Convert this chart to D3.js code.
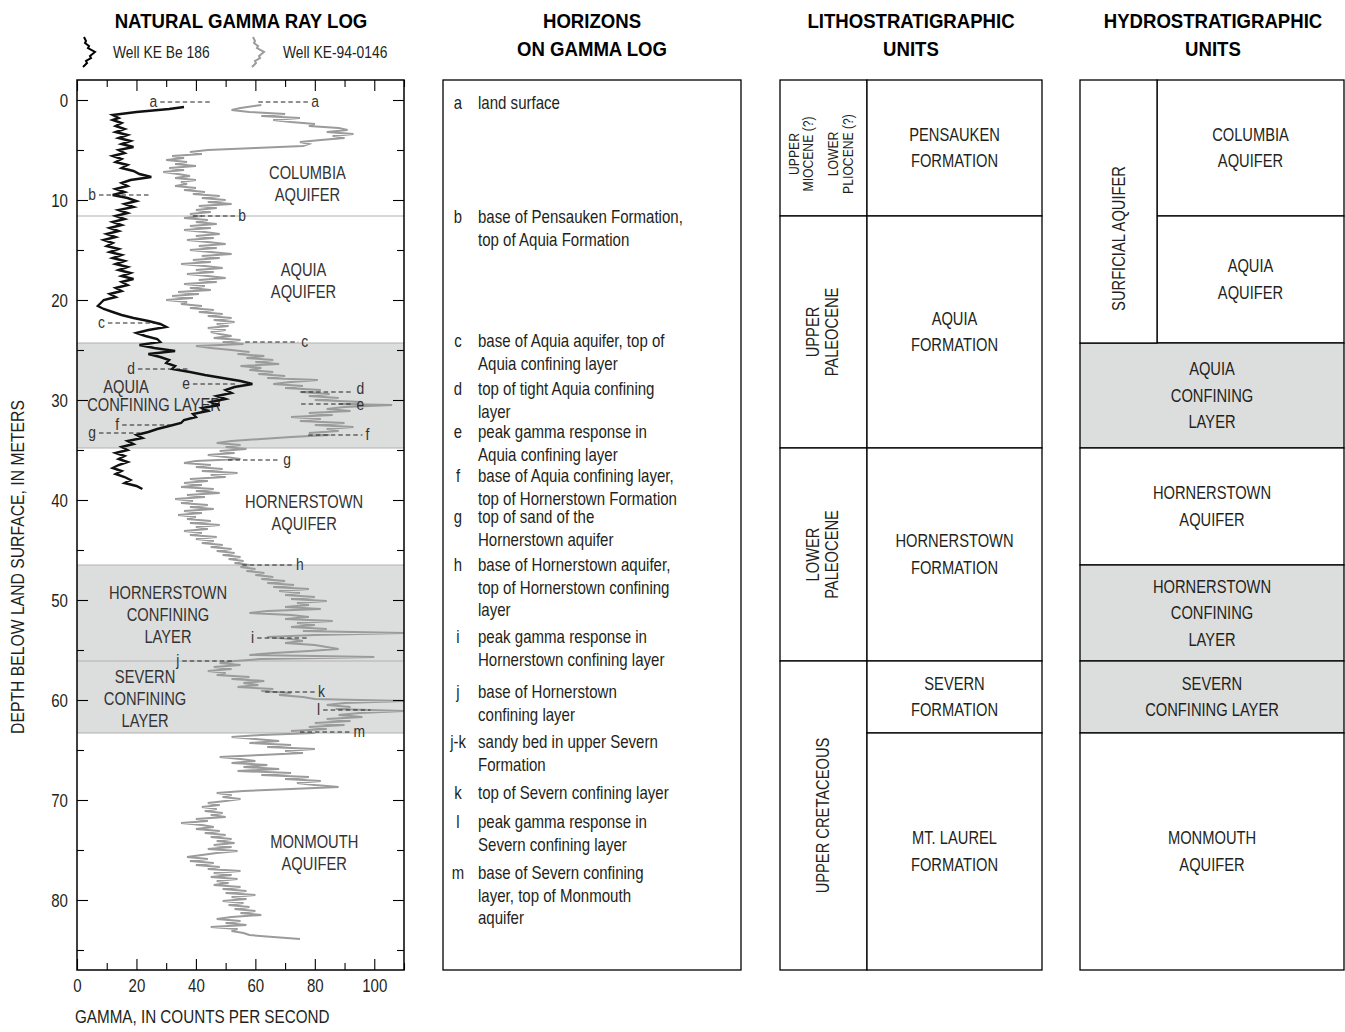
<!DOCTYPE html>
<html>
<head>
<meta charset="utf-8">
<script src="https://cdn.jsdelivr.net/npm/d3@7"></script>
<style>
  body { margin: 0; background: #fff; }
  svg { display: block; font-family: "Liberation Sans", Arial, sans-serif; }
</style>
</head>
<body>
<svg id="chart" width="1345" height="1032"></svg>
<script>
// ---------------------------------------------------------------------------
// Data: natural gamma ray logs, [depth below land surface (m), counts per second]
// ---------------------------------------------------------------------------
const wellBe186 = [
  [0.7,36],[0.9,31],[1.2,20],[1.5,12],[1.8,14],[2.0,12],[2.3,15],[2.6,13],[2.9,16],[3.2,13],
  [3.5,17],[3.8,14],[4.1,18],[4.4,15],[4.7,19],[5.0,14],[5.3,16],[5.6,12],[5.9,15],[6.2,13],
  [6.5,17],[6.8,15],[7.1,19],[7.4,21],[7.7,25],[8.0,18],[8.3,15],[8.6,17],[8.9,13],[9.2,16],
  [9.5,12],[9.8,17],[10.1,20],[10.4,16],[10.7,19],[11.0,14],[11.3,17],[11.6,13],[11.9,16],[12.2,12],
  [12.5,15],[12.8,11],[13.1,14],[13.4,10],[13.7,13],[14.0,9],[14.3,12],[14.6,10],[14.9,14],[15.2,11],
  [15.5,15],[15.8,12],[16.1,16],[16.4,13],[16.7,17],[17.0,14],[17.3,18],[17.6,15],[17.9,19],[18.2,15],
  [18.5,17],[18.8,13],[19.1,15],[19.4,11],[19.7,13],[20.0,9],[20.3,8],[20.6,7],[20.9,9],[21.2,12],
  [21.5,15],[21.8,19],[22.1,24],[22.4,28],[22.7,30],[23.0,24],[23.3,20],[23.6,23],[23.9,27],[24.2,28],
  [24.5,21],[24.8,26],[25.1,33],[25.4,24],[25.7,28],[26.0,31],[26.3,30],[26.6,33],[26.9,32],[27.2,38],
  [27.5,43],[27.8,49],[28.1,55],[28.4,59],[28.7,53],[29.0,50],[29.3,52],[29.6,47],[29.9,50],[30.2,45],
  [30.5,48],[30.8,42],[31.1,44],[31.4,39],[31.7,40],[32.0,36],[32.3,35],[32.6,31],[32.9,27],[33.2,24],
  [33.5,20],[33.8,22],[34.1,17],[34.4,19],[34.7,15],[35.0,17],[35.3,13],[35.6,16],[35.9,14],[36.2,17],
  [36.5,14],[36.8,12],[37.1,15],[37.4,13],[37.7,16],[38.0,18],[38.3,16],[38.6,20],[38.9,22]
];

const wellKe940146 = [
  [0.5,62],[0.8,55],[1.0,52],[1.2,58],[1.4,70],[1.6,62],[1.8,75],[2.0,66],[2.2,72],[2.4,80],
  [2.6,78],[2.8,88],[3.0,91],[3.2,84],[3.4,93],[3.6,86],[3.8,90],[4.0,82],[4.2,75],[4.4,78],
  [4.6,76],[4.8,60],[5.0,44],[5.2,38],[5.4,42],[5.6,32],[5.8,36],[6.0,30],[6.2,37],[6.4,33],
  [6.6,40],[6.8,31],[7.0,36],[7.2,29],[7.4,34],[7.6,38],[7.8,33],[8.0,40],[8.2,35],[8.4,37],
  [8.6,33],[8.8,40],[9.0,36],[9.2,43],[9.4,39],[9.6,48],[9.8,42],[10.0,50],[10.2,44],[10.4,52],
  [10.6,41],[10.8,47],[11.0,40],[11.2,45],[11.4,38],[11.6,42],[11.8,36],[12.0,44],[12.2,40],[12.4,47],
  [12.6,38],[12.8,45],[13.0,36],[13.2,43],[13.4,48],[13.6,40],[13.8,46],[14.0,37],[14.2,44],[14.4,50],
  [14.6,41],[14.8,47],[15.0,38],[15.2,45],[15.4,52],[15.6,42],[15.8,48],[16.0,39],[16.2,45],[16.4,35],
  [16.6,43],[16.8,49],[17.0,40],[17.2,46],[17.4,37],[17.6,44],[17.8,50],[18.0,41],[18.2,47],[18.4,36],
  [18.6,43],[18.8,38],[19.0,45],[19.2,34],[19.4,41],[19.6,32],[19.8,39],[20.0,30],[20.2,37],[20.4,35],
  [20.6,42],[20.8,38],[21.0,46],[21.2,41],[21.4,49],[21.6,44],[21.8,52],[22.0,46],[22.2,53],[22.4,47],
  [22.6,51],[22.8,44],[23.0,50],[23.2,45],[23.4,48],[23.6,52],[23.8,46],[24.0,55],[24.2,49],[24.4,56],
  [24.6,40],[24.8,45],[25.0,52],[25.2,58],[25.4,54],[25.6,63],[25.8,57],[26.0,66],[26.2,60],[26.4,68],
  [26.6,55],[26.8,62],[27.0,58],[27.2,66],[27.4,61],[27.6,70],[27.8,64],[28.0,81],[28.2,72],[28.4,66],
  [28.6,76],[28.8,70],[29.0,82],[29.2,75],[29.4,85],[29.6,78],[29.8,88],[30.0,80],[30.2,96],[30.4,88],
  [30.5,106],[30.7,90],[30.9,84],[31.1,92],[31.3,78],[31.5,86],[31.7,72],[31.9,82],[32.1,75],[32.3,90],
  [32.5,80],[32.7,93],[32.9,84],[33.1,88],[33.3,78],[33.5,85],[33.7,72],[33.9,62],[34.1,52],[34.3,47],
  [34.5,55],[34.7,50],[34.9,57],[35.1,48],[35.3,53],[35.5,44],[35.7,50],[35.9,55],[36.1,40],[36.3,36],
  [36.5,45],[36.7,40],[36.9,49],[37.1,42],[37.3,54],[37.5,45],[37.7,50],[37.9,38],[38.1,44],[38.3,36],
  [38.5,42],[38.7,35],[38.9,46],[39.1,40],[39.3,48],[39.5,37],[39.7,43],[39.9,33],[40.1,39],[40.3,35],
  [40.5,44],[40.7,38],[40.9,46],[41.1,36],[41.3,42],[41.5,34],[41.7,40],[41.9,37],[42.1,45],[42.3,38],
  [42.5,48],[42.7,40],[42.9,44],[43.1,36],[43.3,42],[43.5,38],[43.7,47],[43.9,40],[44.1,46],[44.3,42],
  [44.5,49],[44.7,45],[44.9,52],[45.1,47],[45.3,53],[45.5,49],[45.7,55],[45.9,51],[46.1,56],[46.3,53],
  [46.5,58],[46.7,55],[46.9,60],[47.1,57],[47.3,63],[47.5,60],[47.7,66],[47.9,62],[48.1,70],[48.3,64],
  [48.5,73],[48.7,66],[48.9,78],[49.1,68],[49.3,75],[49.5,70],[49.7,80],[49.9,72],[50.1,84],[50.3,74],
  [50.5,78],[50.7,70],[50.9,82],[51.1,64],[51.3,58],[51.5,72],[51.7,78],[51.9,70],[52.1,86],[52.3,74],
  [52.5,80],[52.7,72],[52.9,84],[53.1,76],[53.3,110],[53.5,80],[53.7,64],[53.9,72],[54.1,76],[54.3,70],
  [54.5,80],[54.7,84],[54.9,88],[55.1,78],[55.3,66],[55.5,58],[55.7,100],[55.9,62],[56.1,53],[56.3,48],
  [56.5,55],[56.7,46],[56.9,52],[57.1,44],[57.3,50],[57.5,47],[57.7,58],[57.9,52],[58.1,63],[58.3,56],
  [58.5,61],[58.7,54],[58.9,66],[59.1,62],[59.3,72],[59.5,68],[59.7,76],[59.9,80],[60.1,110],[60.3,90],
  [60.5,84],[60.7,92],[60.9,87],[61.1,110],[61.3,95],[61.5,88],[61.7,96],[61.9,84],[62.1,92],[62.3,80],
  [62.5,90],[62.7,78],[62.9,84],[63.1,72],[63.3,80],[63.5,62],[63.7,52],[63.9,60],[64.1,68],[64.3,58],
  [64.5,72],[64.7,64],[64.9,80],[65.1,70],[65.3,76],[65.5,62],[65.7,48],[65.9,55],[66.1,60],[66.3,52],
  [66.5,64],[66.7,56],[66.9,68],[67.1,54],[67.3,72],[67.5,62],[67.7,78],[67.9,70],[68.1,82],[68.3,74],
  [68.5,80],[68.7,88],[68.9,72],[69.1,56],[69.3,47],[69.5,52],[69.7,49],[69.9,55],[70.1,50],[70.3,44],
  [70.5,48],[70.7,42],[70.9,47],[71.1,43],[71.3,49],[71.5,45],[71.7,50],[71.9,40],[72.1,44],[72.3,35],
  [72.5,42],[72.7,46],[72.9,40],[73.1,48],[73.3,43],[73.5,50],[73.7,45],[73.9,52],[74.1,47],[74.3,53],
  [74.5,46],[74.7,52],[74.9,44],[75.1,54],[75.3,47],[75.5,42],[75.7,37],[75.9,44],[76.1,38],[76.3,46],
  [76.5,40],[76.7,48],[76.9,44],[77.1,55],[77.3,46],[77.5,52],[77.7,45],[77.9,54],[78.1,47],[78.3,51],
  [78.5,46],[78.7,55],[78.9,49],[79.1,57],[79.3,50],[79.5,60],[79.7,52],[79.9,57],[80.1,49],[80.3,56],
  [80.5,51],[80.7,58],[80.9,53],[81.1,60],[81.3,55],[81.5,62],[81.7,52],[81.9,47],[82.1,55],[82.3,50],
  [82.5,57],[82.7,45],[82.9,54],[83.1,52],[83.3,56],[83.5,58],[83.7,66],[83.9,75]
];

// Axis tick values
const depthMajorTicks = [0, 10, 20, 30, 40, 50, 60, 70, 80];
const depthMinorTicks = [5, 15, 25, 35, 45, 55, 65, 75, 85];
const gammaMajorTicks = [0, 20, 40, 60, 80, 100];
const gammaMinorTicks = [10, 30, 50, 70, 90, 110];

// Horizons picked on the logs: letter, depth (m), dash extent (cps)
const horizonsBe186 = [
  { key: "a", depth: 0.2,  from: 28,   to: 45.5 },
  { key: "b", depth: 9.5,  from: 7.4,  to: 24.6 },
  { key: "c", depth: 22.3, from: 10.4, to: 28 },
  { key: "d", depth: 26.9, from: 20.5, to: 37.4 },
  { key: "e", depth: 28.4, from: 39,   to: 54 },
  { key: "f", depth: 32.5, from: 15.2, to: 31.3 },
  { key: "g", depth: 33.3, from: 7.4,  to: 21.2 }
];
const horizonsKe940146 = [
  { key: "a", depth: 0.2,  from: 61,   to: 77.8, side: "after" },
  { key: "b", depth: 11.6, from: 39,   to: 53.2, side: "after" },
  { key: "c", depth: 24.2, from: 56.6, to: 74.4, side: "after" },
  { key: "d", depth: 29.2, from: 75.4, to: 93,   side: "after" },
  { key: "e", depth: 30.4, from: 75.4, to: 93,   side: "after" },
  { key: "f", depth: 33.5, from: 77.8, to: 96,   side: "after" },
  { key: "g", depth: 36.0, from: 50.8, to: 68.4, side: "after" },
  { key: "h", depth: 46.5, from: 55.6, to: 72.7, side: "after" },
  { key: "i", depth: 53.8, from: 60.6, to: 77.8, side: "before" },
  { key: "j", depth: 56.1, from: 35.4, to: 52.5, side: "before" },
  { key: "k", depth: 59.2, from: 63.3, to: 80.1, side: "after" },
  { key: "l", depth: 61.0, from: 82.8, to: 98.7, side: "before" },
  { key: "m", depth: 63.2, from: 75,   to: 92,   side: "after" }
];

// Horizon descriptions
const horizonNotes = [
  { key: "a",   lines: ["land surface"] },
  { key: "b",   lines: ["base of Pensauken Formation,", "top of Aquia Formation"] },
  { key: "c",   lines: ["base of Aquia aquifer, top of", "Aquia confining layer"] },
  { key: "d",   lines: ["top of tight Aquia confining", "layer"] },
  { key: "e",   lines: ["peak gamma response in", "Aquia confining layer"] },
  { key: "f",   lines: ["base of Aquia confining layer,", "top of Hornerstown Formation"] },
  { key: "g",   lines: ["top of sand of the", "Hornerstown aquifer"] },
  { key: "h",   lines: ["base of Hornerstown aquifer,", "top of Hornerstown confining", "layer"] },
  { key: "i",   lines: ["peak gamma response in", "Hornerstown confining layer"] },
  { key: "j",   lines: ["base of Hornerstown", "confining layer"] },
  { key: "j-k", lines: ["sandy bed in upper Severn", "Formation"] },
  { key: "k",   lines: ["top of Severn confining layer"] },
  { key: "l",   lines: ["peak gamma response in", "Severn confining layer"] },
  { key: "m",   lines: ["base of Severn confining", "layer, top of Monmouth", "aquifer"] }
];

// Lithostratigraphic units (depths in m)
const lithoAges = [
  { groups: [["UPPER", "MIOCENE (?)"], ["LOWER", "PLIOCENE (?)"]], top: -2, base: 11.6 },
  { groups: [["UPPER", "PALEOCENE"]], top: 11.6, base: 34.8 },
  { groups: [["LOWER", "PALEOCENE"]], top: 34.8, base: 56.1 },
  { groups: [["UPPER CRETACEOUS"]], top: 56.1, base: 87 }
];
const lithoFormations = [
  { name: ["PENSAUKEN", "FORMATION"], top: -2, base: 11.6 },
  { name: ["AQUIA", "FORMATION"], top: 11.6, base: 34.8 },
  { name: ["HORNERSTOWN", "FORMATION"], top: 34.8, base: 56.1 },
  { name: ["SEVERN", "FORMATION"], top: 56.1, base: 63.3 },
  { name: ["MT. LAUREL", "FORMATION"], top: 63.3, base: 87 }
];

// Hydrostratigraphic units
const surficialAquifer = { name: "SURFICIAL AQUIFER", top: -2, base: 24.3 };
const hydroUnits = [
  { name: ["COLUMBIA", "AQUIFER"], top: -2, base: 11.6, confining: false, surficial: true },
  { name: ["AQUIA", "AQUIFER"], top: 11.6, base: 24.3, confining: false, surficial: true },
  { name: ["AQUIA", "CONFINING", "LAYER"], top: 24.3, base: 34.8, confining: true },
  { name: ["HORNERSTOWN", "AQUIFER"], top: 34.8, base: 46.5, confining: false },
  { name: ["HORNERSTOWN", "CONFINING", "LAYER"], top: 46.5, base: 56.1, confining: true },
  { name: ["SEVERN", "CONFINING LAYER"], top: 56.1, base: 63.3, confining: true },
  { name: ["MONMOUTH", "AQUIFER"], top: 63.3, base: 87, confining: false }
];

// ---------------------------------------------------------------------------
// Layout and styles
// ---------------------------------------------------------------------------
const svg = d3.select("#chart");
const INK = "#231f20";
const BAND = "#dcdddd";
const BAND_EDGE = "#b2b2b2";
const FS = 17.5;     // body text size
const SX = 0.84;     // horizontal squeeze that gives a condensed face

const depth = d3.scaleLinear().domain([-2, 87]).range([80, 970]);
const gamma = d3.scaleLinear().domain([0, 110]).range([77, 404]);
const [plotL, plotR] = gamma.range();
const [plotT, plotB] = depth.range();

const panels = {
  notes: { x0: 443, x1: 741 },
  litho: { x0: 780, xs: 867, x1: 1042 },
  hydro: { x0: 1080, xs: 1157, x1: 1344 }
};

// Condensed text: anchored at (x, y), vertically centred
function label(parent, x, y, str, o = {}) {
  const rot = o.rotate ? ` rotate(${o.rotate})` : "";
  return parent.append("text")
    .attr("transform", `translate(${x},${y})${rot} scale(${o.sx || SX},1)`)
    .attr("dy", "0.35em")
    .attr("text-anchor", o.anchor || "middle")
    .attr("font-size", o.size || FS)
    .attr("font-weight", o.weight || null)
    .attr("fill", o.fill || INK)
    .text(str);
}
function textLines(g, lines, x, y, lh, o = {}) {
  lines.forEach((s, i) => label(g, x, y + i * lh, s, o));
}

// ---- Headers ----
const headerG = svg.append("g");
[
  { lines: ["NATURAL GAMMA RAY LOG"], x: 241 },
  { lines: ["HORIZONS", "ON GAMMA LOG"], x: 592 },
  { lines: ["LITHOSTRATIGRAPHIC", "UNITS"], x: 911 },
  { lines: ["HYDROSTRATIGRAPHIC", "UNITS"], x: 1213 }
].forEach(h => textLines(headerG, h.lines, h.x, 20.5, 28.5,
  { size: 20, weight: "bold", fill: "#000", sx: 0.93 }));

// ---- Legend ----
function squiggle(x0, yTop) {
  const zig = [[1,0],[3,4],[2,6],[6,9],[5,11],[12,15],[7,19],[8,21],[3,24],[4,26],[0,30]];
  return d3.line()(zig.map(([dx, dy]) => [x0 + dx, yTop + dy]));
}
const legendG = svg.append("g");
legendG.append("path").attr("d", squiggle(83, 37)).attr("fill", "none")
  .attr("stroke", "#000").attr("stroke-width", 2);
label(legendG, 113, 52, "Well KE Be 186", { anchor: "start", size: 16.5 });
legendG.append("path").attr("d", squiggle(252, 37)).attr("fill", "none")
  .attr("stroke", "#9b9b9b").attr("stroke-width", 2);
label(legendG, 283, 52, "Well KE-94-0146", { anchor: "start", size: 16.5 });

// ---- Gamma log panel ----
const logG = svg.append("g");
svg.append("defs").append("clipPath").attr("id", "plotClip")
  .append("rect").attr("x", plotL).attr("y", plotT)
  .attr("width", plotR - plotL).attr("height", plotB - plotT);

const confining = hydroUnits.filter(u => u.confining);
logG.selectAll("rect.band").data(confining).join("rect")
  .attr("class", "band")
  .attr("x", plotL).attr("width", plotR - plotL)
  .attr("y", d => depth(d.top)).attr("height", d => depth(d.base) - depth(d.top))
  .attr("fill", BAND);

// Unit boundaries as thin grey lines across the log
const boundaryDepths = Array.from(new Set(hydroUnits.map(u => u.base).filter(b => b < 87)));
logG.selectAll("line.bound").data(boundaryDepths).join("line")
  .attr("class", "bound")
  .attr("x1", plotL).attr("x2", plotR)
  .attr("y1", d => depth(d)).attr("y2", d => depth(d))
  .attr("stroke", BAND_EDGE).attr("stroke-width", 1.2);

// Unit names written on the log (anchors in cps / m)
const logLabels = [
  { lines: ["COLUMBIA", "AQUIFER"], at: [77.5, 7.3] },
  { lines: ["AQUIA", "AQUIFER"], at: [76.2, 17.0] },
  { lines: ["AQUIA"], at: [16.5, 28.7] },
  { lines: ["CONFINING LAYER"], at: [25.9, 30.5] },
  { lines: ["HORNERSTOWN", "AQUIFER"], at: [76.4, 40.2] },
  { lines: ["HORNERSTOWN", "CONFINING", "LAYER"], at: [30.6, 49.3] },
  { lines: ["SEVERN", "CONFINING", "LAYER"], at: [22.9, 57.7] },
  { lines: ["MONMOUTH", "AQUIFER"], at: [79.8, 74.2] }
];
logLabels.forEach(l => textLines(logG, l.lines, gamma(l.at[0]), depth(l.at[1]), 22, { fill: "#333" }));

const line = d3.line().x(d => gamma(d[1])).y(d => depth(d[0]));
const curves = logG.append("g").attr("clip-path", "url(#plotClip)");
curves.append("path").datum(wellKe940146).attr("d", line)
  .attr("fill", "none").attr("stroke", "#9b9b9b").attr("stroke-width", 2);
curves.append("path").datum(wellBe186).attr("d", line)
  .attr("fill", "none").attr("stroke", "#111").attr("stroke-width", 2.4);

// Horizon markers; closely spaced letters are nudged apart
const markerNudge = { "after:d": -3, "after:e": 1 };
function drawMarkers(list, defaultSide) {
  const g = logG.append("g");
  list.forEach(h => {
    const y = depth(h.depth);
    const side = h.side || defaultSide;
    g.append("line")
      .attr("x1", gamma(h.from)).attr("x2", gamma(h.to))
      .attr("y1", y).attr("y2", y)
      .attr("stroke", "#222").attr("stroke-width", 1.1).attr("stroke-dasharray", "4.5,3");
    const lx = side === "before" ? gamma(h.from) - 3 : gamma(h.to) + 3;
    const ny = markerNudge[`${side}:${h.key}`] || 0;
    label(g, lx, y - 1 + ny, h.key, { anchor: side === "before" ? "end" : "start", size: 16.5, fill: "#333" });
  });
}
drawMarkers(horizonsBe186, "before");
drawMarkers(horizonsKe940146, "after");

// Axes with inward ticks
function styleAxis(g) {
  g.select(".domain").remove();
  g.attr("font-family", null).attr("font-size", null);
  g.selectAll("line").attr("stroke", "#000").attr("stroke-width", 1.1);
  g.selectAll(".tick text").each(function () {
    const t = d3.select(this);
    const x = +t.attr("x") || 0, y = +t.attr("y") || 0;
    t.attr("x", 0).attr("y", 0)
      .attr("transform", `translate(${x},${y}) scale(0.86,1)`)
      .attr("font-size", FS).attr("fill", INK);
  });
}
const axG = logG.append("g");
axG.append("g").attr("transform", `translate(${plotL},0)`)
  .call(d3.axisLeft(depth).tickValues(depthMajorTicks).tickSize(-11).tickPadding(9).tickFormat(d3.format("d")))
  .call(styleAxis)
  .call(g => g.selectAll(".tick text").attr("dy", "0.35em"));
axG.append("g").attr("transform", `translate(${plotL},0)`)
  .call(d3.axisLeft(depth).tickValues(depthMinorTicks).tickSize(-7).tickFormat(""))
  .call(styleAxis);
axG.append("g").attr("transform", `translate(${plotR},0)`)
  .call(d3.axisRight(depth).tickValues(depthMajorTicks).tickSize(-11).tickFormat(""))
  .call(styleAxis);
axG.append("g").attr("transform", `translate(${plotR},0)`)
  .call(d3.axisRight(depth).tickValues(depthMinorTicks).tickSize(-7).tickFormat(""))
  .call(styleAxis);
axG.append("g").attr("transform", `translate(0,${plotB})`)
  .call(d3.axisBottom(gamma).tickValues(gammaMajorTicks).tickSize(-11).tickPadding(10).tickFormat(d3.format("d")))
  .call(styleAxis)
  .call(g => g.selectAll(".tick text").attr("dy", "0.71em"));
axG.append("g").attr("transform", `translate(0,${plotB})`)
  .call(d3.axisBottom(gamma).tickValues(gammaMinorTicks).tickSize(-7).tickFormat(""))
  .call(styleAxis);
axG.append("g").attr("transform", `translate(0,${plotT})`)
  .call(d3.axisTop(gamma).tickValues(gammaMajorTicks).tickSize(-11).tickFormat(""))
  .call(styleAxis);
axG.append("g").attr("transform", `translate(0,${plotT})`)
  .call(d3.axisTop(gamma).tickValues(gammaMinorTicks).tickSize(-7).tickFormat(""))
  .call(styleAxis);

logG.append("rect").attr("x", plotL).attr("y", plotT)
  .attr("width", plotR - plotL).attr("height", plotB - plotT)
  .attr("fill", "none").attr("stroke", "#000").attr("stroke-width", 1.5);

// Axis titles
label(svg, 75, 1017, "GAMMA, IN COUNTS PER SECOND", { anchor: "start", sx: 0.87 });
label(svg, 18, 567, "DEPTH BELOW LAND SURFACE, IN METERS", { rotate: -90, sx: 0.9 });

// ---- Horizon descriptions ----
const notesG = svg.append("g");
const P = panels.notes;
notesG.append("rect").attr("x", P.x0).attr("y", plotT).attr("width", P.x1 - P.x0).attr("height", plotB - plotT)
  .attr("fill", "none").attr("stroke", "#000").attr("stroke-width", 1.3);
const noteTops = [103, 217, 341, 389, 432, 476, 517, 565, 637, 692, 742, 793, 822, 873];
horizonNotes.forEach((n, i) => {
  label(notesG, P.x0 + 15, noteTops[i], n.key, { size: 17.5, sx: 0.85 });
  textLines(notesG, n.lines, P.x0 + 35, noteTops[i], 22.5, { anchor: "start", size: 17.5, sx: 0.86 });
});

// ---- Lithostratigraphic units ----
const lithoG = svg.append("g");
const L = panels.litho;
lithoG.selectAll("rect.age").data(lithoAges).join("rect")
  .attr("x", L.x0).attr("width", L.xs - L.x0)
  .attr("y", d => depth(d.top)).attr("height", d => depth(d.base) - depth(d.top))
  .attr("fill", "#fff").attr("stroke", "#000").attr("stroke-width", 1.3);
lithoG.selectAll("rect.fm").data(lithoFormations).join("rect")
  .attr("x", L.xs).attr("width", L.x1 - L.xs)
  .attr("y", d => depth(d.top)).attr("height", d => depth(d.base) - depth(d.top))
  .attr("fill", "#fff").attr("stroke", "#000").attr("stroke-width", 1.3);
lithoAges.forEach(a => {
  const cy = (depth(a.top) + depth(a.base)) / 2;
  const cx = (L.x0 + L.xs) / 2;
  const twoGroups = a.groups.length > 1;
  const size = twoGroups ? 14.5 : FS;
  const inner = twoGroups ? 14.5 : 19;
  const gap = 25;
  // x offset of each rotated line, centred on the column
  const offs = [];
  let pos = 0;
  a.groups.forEach((grp, gi) => {
    if (gi > 0) pos += gap - inner;
    grp.forEach(s => { offs.push({ s, x: pos }); pos += inner; });
  });
  const span = pos - inner;
  const shift = twoGroups ? -3 : -1;
  offs.forEach(o => label(lithoG, cx + shift - span / 2 + o.x, cy + (twoGroups ? 6 : 0), o.s,
    { rotate: -90, size }));
});
lithoFormations.forEach(f => {
  const cy = (depth(f.top) + depth(f.base)) / 2;
  textLines(lithoG, f.name, (L.xs + L.x1) / 2, cy - 13.25, 26.5);
});

// ---- Hydrostratigraphic units ----
const hydroG = svg.append("g");
const H = panels.hydro;
hydroG.selectAll("rect.unit").data(hydroUnits).join("rect")
  .attr("x", d => d.surficial ? H.xs : H.x0)
  .attr("width", d => d.surficial ? H.x1 - H.xs : H.x1 - H.x0)
  .attr("y", d => depth(d.top)).attr("height", d => depth(d.base) - depth(d.top))
  .attr("fill", d => d.confining ? BAND : "#fff")
  .attr("stroke", "#000").attr("stroke-width", 1.3);
hydroG.append("rect").attr("x", H.x0).attr("width", H.xs - H.x0)
  .attr("y", depth(surficialAquifer.top))
  .attr("height", depth(surficialAquifer.base) - depth(surficialAquifer.top))
  .attr("fill", "#fff").attr("stroke", "#000").attr("stroke-width", 1.3);
label(hydroG, (H.x0 + H.xs) / 2,
  (depth(surficialAquifer.top) + depth(surficialAquifer.base)) / 2 + 27,
  surficialAquifer.name, { rotate: -90 });
hydroUnits.forEach(u => {
  const cy = (depth(u.top) + depth(u.base)) / 2;
  const cx = u.surficial ? (H.xs + H.x1) / 2 : (H.x0 + H.x1) / 2;
  textLines(hydroG, u.name, cx, cy - (u.name.length - 1) * 13.25, 26.5);
});
</script>
</body>
</html>
